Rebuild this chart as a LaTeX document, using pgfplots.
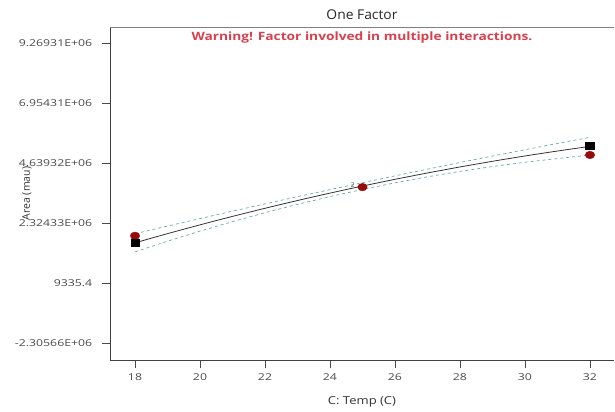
\documentclass[border=0pt]{standalone}
\usepackage{fontspec}
\setmainfont{Open Sans}
\usepackage{pgfplots}
\pgfplotsset{compat=1.18}
\definecolor{tickgray}{HTML}{4A4A4A}
\definecolor{warnred}{HTML}{D8404E}
\definecolor{band}{HTML}{6AA8A8}
\definecolor{ptred}{HTML}{960A0A}
\begin{document}
\begin{tikzpicture}
\path[use as bounding box] (-110bp,-52bp) rectangle (505bp,360bp);
\begin{axis}[
  at={(0,0)}, anchor=south west,
  scale only axis, width=504bp, height=333bp,
  xmin=17.23, xmax=32.74, ymin=-2961575, ymax=9886642,
  scaled y ticks=false, scaled x ticks=false,
  axis x line*=bottom, axis y line*=left,
  axis line style={black!75, line width=0.9pt},
  x axis line style={-}, y axis line style={-},
  tick align=outside,
  xtick={18,20,22,24,26,28,30,32},
  xticklabels={18,20,22,24,26,28,30,32},
  ytick={-2305660,9335.4,2324330,4639320,6954310,9269310},
  yticklabels={-2.30566E+06,9335.4,2.32433E+06,4.63932E+06,6.95431E+06,9.26931E+06},
  tick style={tickgray, line width=0.6pt},
  major tick length=8bp,
  ticklabel style={font=\fontsize{9.5}{11}\selectfont, text=tickgray, xscale=1.3},
  xticklabel style={yshift=-2bp},
  yticklabel style={xshift=-4bp},
  clip=false,
]
\draw[gray, line width=0.6pt] (rel axis cs:0,1) -- (rel axis cs:1,1);
% confidence bands
\addplot[band, dashed, line width=0.7pt] coordinates {
(18,1.91e6) (19,2.206e6) (20,2.495e6) (21,2.781e6) (22,3.062e6) (23,3.340e6) (24,3.612e6) (25,3.88e6) (26,4.1435e6) (27,4.4025e6) (28,4.657e6) (29,4.907e6) (30,5.152e6) (31,5.394e6) (32,5.63e6)};
\addplot[band, dashed, line width=0.7pt] coordinates {
(18,1.21e6) (19,1.622e6) (20,2.011e6) (21,2.377e6) (22,2.722e6) (23,3.044e6) (24,3.343e6) (25,3.62e6) (26,3.8745e6) (27,4.1065e6) (28,4.316e6) (29,4.503e6) (30,4.668e6) (31,4.810e6) (32,4.95e6)};
% fitted line
\addplot[black!80, line width=0.8pt, smooth] coordinates {
(18,1.56e6) (19,1.9135e6) (20,2.2531e6) (21,2.5794e6) (22,2.8923e6) (23,3.1917e6) (24,3.4776e6) (25,3.75e6) (26,4.009e6) (27,4.2545e6) (28,4.4865e6) (29,4.705e6) (30,4.9101e6) (31,5.1015e6) (32,5.28e6)};
% design points
\addplot[only marks, mark=*, mark options={fill=ptred, draw=ptred, xscale=1.25}, mark size=3.8pt] coordinates {(18,1.83e6) (25,3.71e6) (32,4.95e6)};
\addplot[only marks, mark=square*, mark options={fill=black, draw=black, xscale=1.2}, mark size=3.6pt] coordinates {(18,1.55e6) (32,5.30e6)};
\node[font=\fontsize{6.5}{7}\selectfont, text=tickgray] at (axis cs:24.70,3.8e6) {2};
% texts
\node[font=\fontsize{13.5}{15}\selectfont, text=black!85, xscale=1.03] at (rel axis cs:0.5,1.036) {One Factor};
\node[font=\fontsize{11.5}{13}\selectfont\bfseries, text=warnred, xscale=1.2] at (rel axis cs:0.5,0.969) {Warning! Factor involved in multiple interactions.};
\node[font=\fontsize{11}{13}\selectfont, text=black!80, xscale=1.19] at (rel axis cs:0.5,-0.126) {C: Temp (C)};
\node[rotate=90, font=\fontsize{10.5}{12}\selectfont, text=black!80] at (rel axis cs:-0.1647,0.5) {Area (mau)};
\end{axis}
\end{tikzpicture}
\end{document}
